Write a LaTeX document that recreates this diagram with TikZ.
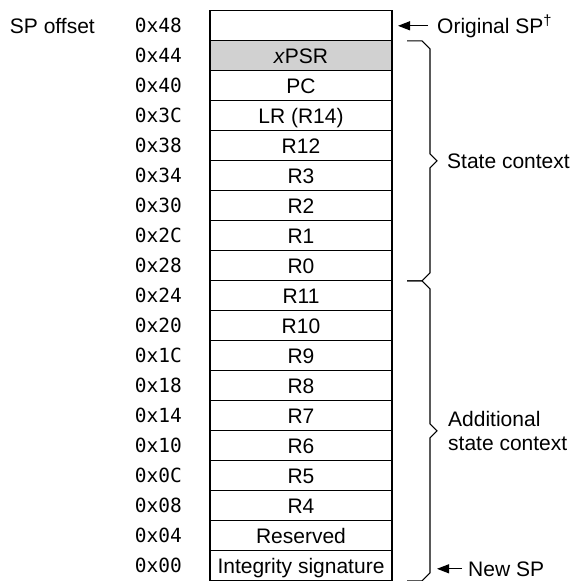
\documentclass[tikz,border=0pt]{standalone}
\usepackage{fontspec}
\setmainfont{Liberation Sans}
\newfontfamily\hexfont{DejaVu Sans Mono}
\usetikzlibrary{positioning,arrows.meta,calc}

\begin{document}
\begin{tikzpicture}[x=1pt, y=1pt,
cell/.style={rectangle, draw=black, line width=1.1pt, minimum width=182pt, minimum height=30pt, inner sep=0pt, outer sep=0pt, font=\fontsize{21}{24}\selectfont, text height=15pt, text depth=0pt},
shaded/.style={cell, fill=black!18},
hexoff/.style={font=\fontsize{19.5}{22}\hexfont, inner sep=0pt, text height=14pt, text depth=0pt},
note/.style={font=\fontsize{21}{24}\selectfont, inner sep=0pt},
ptr/.style={-{Triangle[length=12pt,width=9pt]}, line width=1.1pt},
brace/.style={line width=1.1pt},
label distance=28pt,
node distance=0pt,
]
\useasboundingbox (0,0) rectangle (576,-581);

% the stack frame, top down
\node (r48) [cell] at (301,-25.8) [label={[hexoff]left:0x48}] {};
\node (r44) [shaded, below=of r48] [label={[hexoff]left:0x44}] {\textit{x}PSR};
\node (r40) [cell, below=of r44] [label={[hexoff]left:0x40}] {PC};
\node (r3c) [cell, below=of r40] [label={[hexoff]left:0x3C}] {LR (R14)};
\node (r38) [cell, below=of r3c] [label={[hexoff]left:0x38}] {R12};
\node (r34) [cell, below=of r38] [label={[hexoff]left:0x34}] {R3};
\node (r30) [cell, below=of r34] [label={[hexoff]left:0x30}] {R2};
\node (r2c) [cell, below=of r30] [label={[hexoff]left:0x2C}] {R1};
\node (r28) [cell, below=of r2c] [label={[hexoff]left:0x28}] {R0};
\node (r24) [cell, below=of r28] [label={[hexoff]left:0x24}] {R11};
\node (r20) [cell, below=of r24] [label={[hexoff]left:0x20}] {R10};
\node (r1c) [cell, below=of r20] [label={[hexoff]left:0x1C}] {R9};
\node (r18) [cell, below=of r1c] [label={[hexoff]left:0x18}] {R8};
\node (r14) [cell, below=of r18] [label={[hexoff]left:0x14}] {R7};
\node (r10) [cell, below=of r14] [label={[hexoff]left:0x10}] {R6};
\node (r0c) [cell, below=of r10] [label={[hexoff]left:0x0C}] {R5};
\node (r08) [cell, below=of r0c] [label={[hexoff]left:0x08}] {R4};
\node (r04) [cell, below=of r08] [label={[hexoff]left:0x04}] {Reserved};
\node (r00) [cell, below=of r04] [label={[hexoff]left:0x00}] {Integrity signature};

\node (spoff) [note, anchor=east, text height=15pt, text depth=0pt] at ([xshift=-115pt]r48.west) {SP offset};

% stack pointers
\node (origsp) [note, anchor=west, text height=15pt, text depth=0pt] at ([xshift=45pt]r48.east) {Original SP\textsuperscript{\dag}};
\draw[ptr, shorten <=9pt, shorten >=6pt] (origsp.west) -- (r48.east);

\coordinate (nsp) at ([shift={(45pt,-3pt)}]r00.east);
\node (newsp) [note, anchor=west, text height=15pt, text depth=0pt] at ([xshift=31pt]nsp) {New SP};
\draw[ptr, shorten <=6pt] (newsp.west) -- (nsp);

% braces
\coordinate (tip1) at ($(r44.north east)!0.5!(r28.south east)+(45pt,0)$);
\coordinate (tip2) at ($(r24.north east)!0.5!(r00.south east)+(45pt,0)$);
\draw[brace] ([xshift=15pt]r44.north east) -- ++(15pt,0) -- ++(8pt,-8pt)
  -- ([shift={(-7pt,7pt)}]tip1) -- (tip1) -- ([shift={(-7pt,-7pt)}]tip1)
  -- ([shift={(38pt,8pt)}]r28.south east) -- ++(-8pt,-8pt) -- ++(-15pt,0);
\draw[brace] ([xshift=15pt]r24.north east) -- ++(15pt,0) -- ++(8pt,-8pt)
  -- ([shift={(-7pt,7pt)}]tip2) -- (tip2) -- ([shift={(-7pt,-7pt)}]tip2)
  -- ([shift={(38pt,8pt)}]r00.south east) -- ++(-8pt,-8pt) -- ++(-15pt,0);

\node (state) [note, anchor=west] at ([xshift=10pt]tip1) {State context};
\node (addl) [note, anchor=west, align=left] at ([xshift=11pt]tip2) {Additional\\state context};
\end{tikzpicture}
\end{document}
